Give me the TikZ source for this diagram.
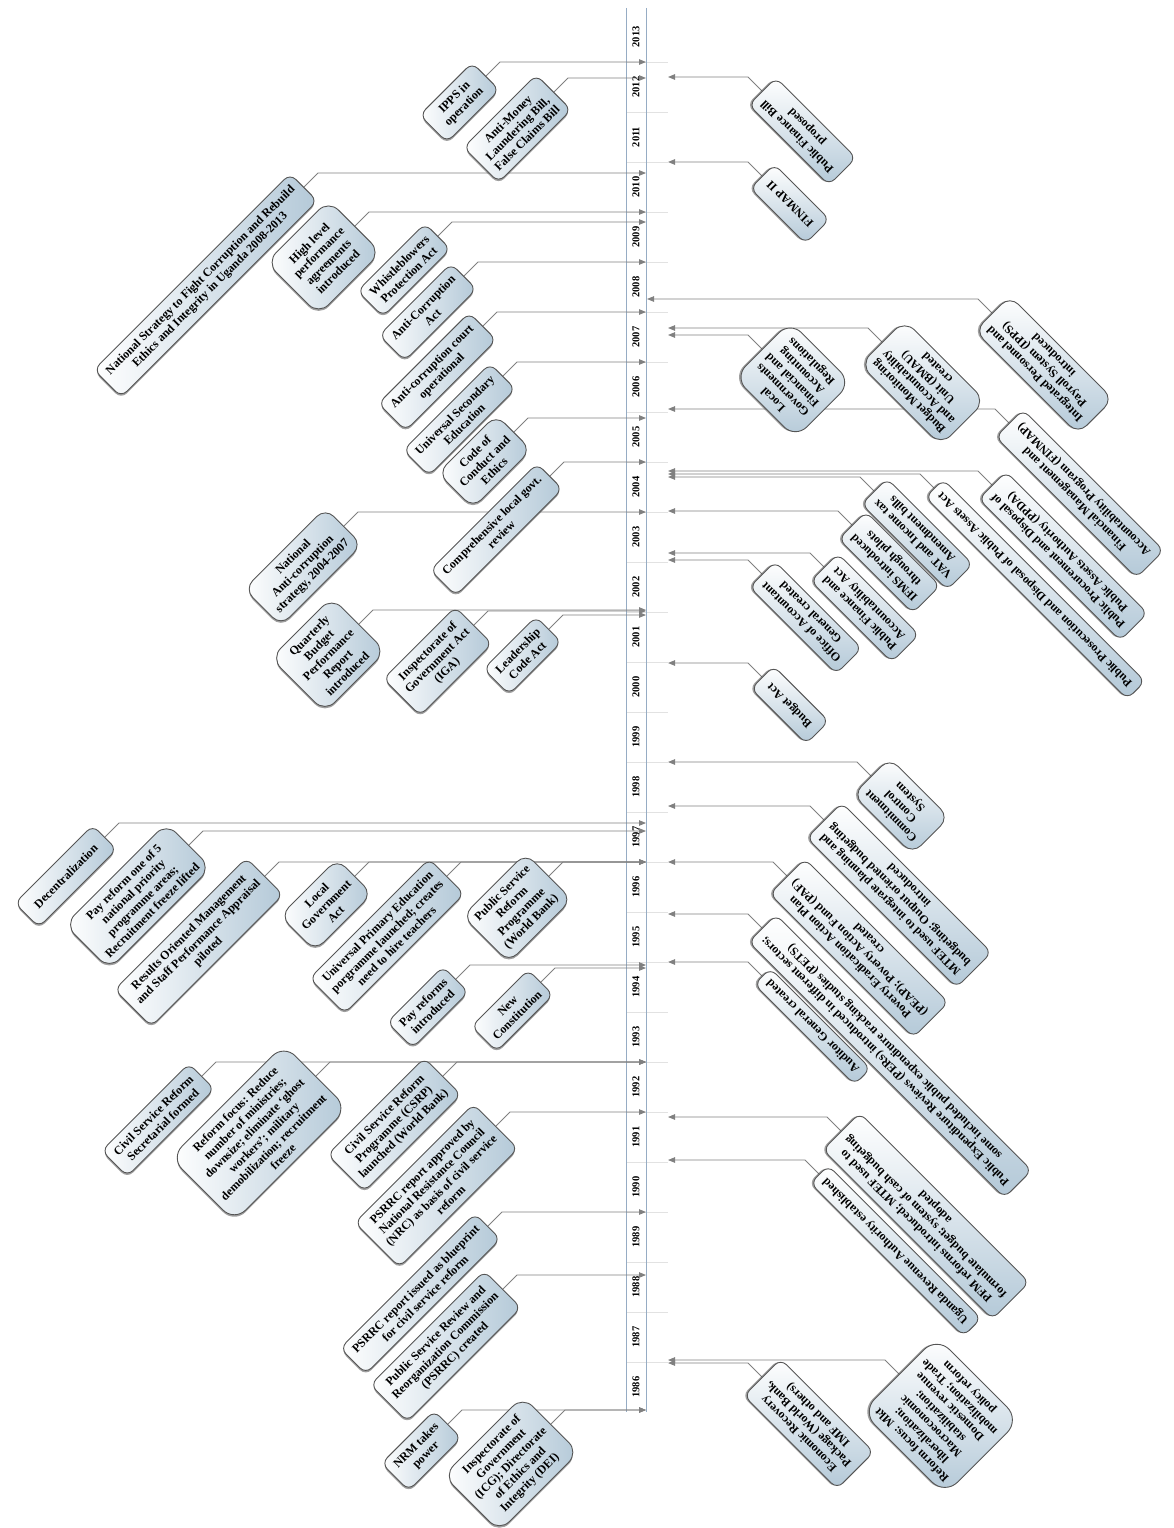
\documentclass[tikz,border=0pt]{standalone}
\usepackage{fontspec}
\setmainfont{Liberation Serif}
\usetikzlibrary{arrows.meta,shadows,calc}
\definecolor{boxblue}{RGB}{180,201,216}
\definecolor{boxedge}{RGB}{85,85,85}
\definecolor{conncol}{RGB}{128,128,128}
\definecolor{axiscol}{RGB}{150,172,196}
\definecolor{gridcol}{RGB}{226,226,226}
\pgfdeclarelayer{axislayer}
\pgfdeclarelayer{connlayer}
\pgfsetlayers{axislayer,connlayer,main}
\tikzset{
  evbox/.style={draw=boxedge, line width=0.9pt, rounded corners=8pt, align=center,
    inner xsep=8pt, inner ysep=7pt, font=\bfseries\fontsize{12}{13.5}\selectfont, anchor=east},
  lbox/.style={evbox, rotate=45, left color=white, right color=boxblue,
    drop shadow={shadow xshift=0pt, shadow yshift=-2pt, opacity=0.5, fill=black!75}},
  rbox/.style={evbox, rotate=135, top color=white, bottom color=boxblue,
    drop shadow={shadow xshift=-2pt, shadow yshift=0pt, opacity=0.5, fill=black!75}},
  conn/.style={draw=conncol, line width=0.9pt, -{Triangle[length=7pt,width=5.5pt]}},
  yearlbl/.style={font=\bfseries\fontsize{10.5}{10.5}\selectfont, rotate=90, inner sep=0pt},
}
% left event: name, Y, bend x, options, text
\newcommand\levt[5]{%
  \coordinate (#1-b) at (#3,#2);
  \coordinate (#1-a) at (646,#2);
  \node[lbox,#4] (#1) at ($(#1-b)+(-14,14)$) {#5};
  \begin{pgfonlayer}{connlayer}
    \draw[conn] (#1.east) -- (#1-b) -- (#1-a);
  \end{pgfonlayer}
}
% right event: name, Y, bend x, end x, options, text
\newcommand\revt[6]{%
  \coordinate (#1-b) at (#3,#2);
  \coordinate (#1-a) at (#4,#2);
  \node[rbox,#5] (#1) at ($(#1-b)+(14,14)$) {#6};
  \begin{pgfonlayer}{connlayer}
    \draw[conn] (#1.east) -- (#1-b) -- (#1-a);
  \end{pgfonlayer}
}
\begin{document}
\begin{tikzpicture}[x=1pt,y=-1pt]
\useasboundingbox (0,0) rectangle (1174,1528);
% ---------- axis ----------
\begin{pgfonlayer}{axislayer}
  \foreach \k in {1,...,27} {
    \draw[gridcol, line width=0.8pt] (626,{12+50*\k}) -- (668,{12+50*\k});
  }
  \draw[axiscol, line width=0.9pt] (626,8) -- (626,1412);
  \draw[axiscol, line width=0.9pt] (646,8) -- (646,1412);
  \foreach \yr in {1986,...,2013} {
    \node[yearlbl] (yr\yr) at (636,{37+(2013-\yr)*50}) {\yr};
  }
\end{pgfonlayer}
% ---------- left events ----------
\levt{ippsop}{62}{500}{minimum width=74pt, minimum height=36pt}{IPPS in\\operation}
\levt{aml}{78}{568}{}{Anti-Money\\Laundering Bill,\\False Claims Bill}
\levt{nsf}{173}{318}{}{National Strategy to Fight Corruption and Rebuild\\Ethics and Integrity in Uganda 2008-2013}
\levt{hlp}{212}{369}{rounded corners=14pt, minimum height=74pt, minimum width=88pt}{High level\\performance\\agreements\\introduced}
\levt{wpa}{222}{452}{}{Whistleblowers\\Protection Act}
\levt{aca}{262}{478}{}{Anti-Corruption\\Act}
\levt{acc}{312}{497}{}{Anti-corruption court\\operational}
\levt{use}{362}{517}{}{Universal Secondary\\Education}
\levt{cce}{418}{528}{rounded corners=12pt}{Code of\\Conduct and\\Ethics}
\levt{clg}{462}{564}{}{Comprehensive local govt.\\review}
\levt{nac}{512}{358}{rounded corners=12pt}{National\\Anti-corruption\\strategy, 2004-2007}
\levt{qbp}{610}{373}{rounded corners=14pt, minimum width=86pt}{Quarterly\\Budget\\Performance\\Report\\introduced}
\levt{iga}{611}{488}{}{Inspectorate of\\Government Act\\(IGA)}
\levt{lca}{615}{563}{}{Leadership\\Code Act}
\levt{dec}{823}{119}{minimum height=34pt, minimum width=110pt}{Decentralization}
\levt{pro}{831}{203}{rounded corners=14pt}{Pay reform one of 5\\national priority\\programme areas;\\Recruitment freeze lifted}
\levt{rom}{862}{279}{}{Results Oriented Management\\and Staff Performance Appraisal\\piloted}
\levt{lga}{862}{369}{rounded corners=12pt}{Local\\Government\\Act}
\levt{upe}{862}{461}{}{Universal Primary Education\\porgramme launched; creates\\need to hire teachers}
\levt{psrp}{862}{563}{rounded corners=12pt}{Public Service\\Reform\\Programme\\(World Bank)}
\levt{pri}{965}{470}{}{Pay reforms\\introduced}
\levt{nc}{968}{555}{}{New\\Constitution}
\levt{csrs}{1062}{216}{}{Civil Service Reform\\Secretarial formed}
\levt{rfr}{1062}{330}{rounded corners=16pt}{Reform focus: Reduce\\number of ministries;\\downsize; eliminate `ghost\\workers'; military\\demobilization; recruitment\\freeze}
\levt{csrp}{1062}{457}{}{Civil Service Reform\\Programme (CSRP)\\launched (World Bank)}
\levt{psa}{1112}{510}{}{PSRRC report approved by\\National Resistance Council\\(NRC) as basis of civil service\\reform}
\levt{psi}{1212}{502}{}{PSRRC report issued as blueprint\\for civil service reform}
\levt{psc}{1275}{517}{}{Public Service Review and\\Reorganization Commission\\(PSRRC) created}
\levt{nrm}{1410}{462}{}{NRM takes\\power}
\levt{icg}{1410}{565}{rounded corners=14pt}{Inspectorate of\\Government\\(ICG); Directorate\\of Ethics and\\Integrity (DEI)}
% ---------- right events ----------
\revt{pfb}{77}{748}{668}{}{Public Finance Bill\\proposed}
\revt{fin2}{162}{748}{668}{minimum height=34pt, minimum width=78pt}{FINMAP II}
\revt{ippsi}{299}{978}{647}{rounded corners=12pt}{Integrated Personnel and\\Payroll System (IPPS)\\introduced}
\revt{bmau}{328}{868}{668}{rounded corners=14pt}{Budget Monitoring\\and Accountability\\Unit (BMAU)\\created}
\revt{lgf}{335}{748}{668}{rounded corners=16pt}{Local\\Governments\\Financial and\\Accounting\\Regulations}
\revt{finmap}{409}{995}{668}{}{Financial Management and\\Accountability Program (FINMAP)}
\revt{ppda}{471}{978}{668}{}{Public Procurement and Disposal of\\Public Assets Authority (PPDA)}
\revt{ppd}{474}{920}{668}{}{Public Prosecution and Disposal of Public Assets Act}
\revt{vat}{477}{860}{668}{}{VAT and Income tax\\Amendment bills}
\revt{ifms}{511}{838}{668}{}{IFMS introduced\\through pilots}
\revt{pfaa}{553}{810}{668}{}{Public Finance and\\Accountability Act}
\revt{oag}{560}{748}{668}{}{Office of Accountant\\General created}
\revt{ba}{663}{748}{668}{minimum height=32pt, minimum width=78pt}{Budget Act}
\revt{ccs}{762}{857}{668}{rounded corners=12pt}{Commitment\\Control\\System}
\revt{mtef}{806}{810}{668}{}{MTEF used to integrate planning and\\budgeting; Output oriented budgeting\\introduced}
\revt{peap}{862}{773}{668}{}{Poverty Eradication Action Plan\\(PEAP); Poverty Action Fund (PAF)\\created}
\revt{pers}{914}{748}{668}{}{Public Expenditure Reviews (PERs) introduced in different sectors;\\some included public expenditure tracking studies (PETS)}
\revt{ag}{962}{748}{668}{}{Auditor General created}
\revt{pfm}{1117}{827}{668}{}{PFM reforms introduced; MTEF used to\\formulate budget; system of cash budgeting\\adopted}
\revt{ura}{1160}{805}{668}{}{Uganda Revenue Authority established}
\revt{rfm}{1360}{885}{668}{rounded corners=18pt}{Reform focus: Mkt\\liberalization;\\Macroeconomic\\stabilization;\\Domestic revenue\\mobilization; Trade\\policy reform}
\revt{erp}{1363}{748}{668}{}{Economic Recovery\\Package (World Bank,\\IMF and others)}
\end{tikzpicture}
\end{document}
